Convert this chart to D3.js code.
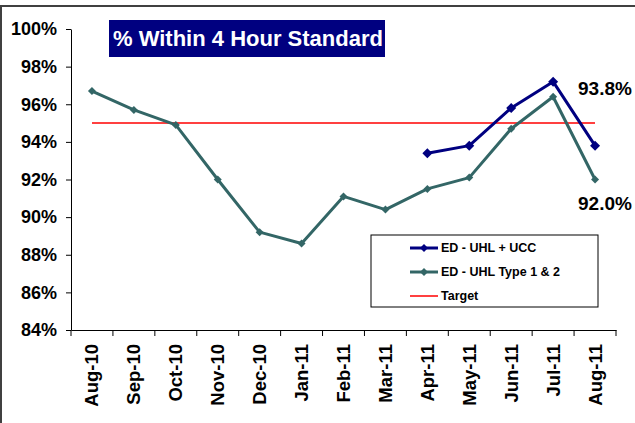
<!DOCTYPE html>
<html>
<head>
<meta charset="utf-8">
<script src="https://cdn.jsdelivr.net/npm/d3@7"></script>
<style>
  body { margin: 0; background: #fff; }
  svg { display: block; font-family: "Liberation Sans", Arial, sans-serif; }
</style>
</head>
<body>
<svg id="chart" width="635" height="423"></svg>
<script>
// data
var months = ["Aug-10", "Sep-10", "Oct-10", "Nov-10", "Dec-10", "Jan-11", "Feb-11",
              "Mar-11", "Apr-11", "May-11", "Jun-11", "Jul-11", "Aug-11"];
var uhlUcc = [null, null, null, null, null, null, null, null, 93.4, 93.8, 95.8, 97.2, 93.8];
var uhlType12 = [96.7, 95.7, 94.9, 92.0, 89.2, 88.6, 91.1, 90.4, 91.5, 92.1, 94.7, 96.4, 92.0];
var target = 95;
var yTicks = [84, 86, 88, 90, 92, 94, 96, 98, 100];

var svg = d3.select("#chart"),
    margin = {top: 29, right: 19, bottom: 93, left: 71},
    width = +svg.attr("width") - margin.left - margin.right,
    height = +svg.attr("height") - margin.top - margin.bottom,
    g = svg.append("g").attr("transform", "translate(" + margin.left + "," + margin.top + ")");

// outer frame (only top and left edges show in the crop)
svg.append("path")
    .attr("d", "M1,423V6H635")
    .attr("fill", "none")
    .attr("stroke", "#404040")
    .attr("stroke-width", 2);

var x = d3.scaleBand().domain(months).range([0, width]);
var y = d3.scaleLinear().domain([84, 100]).range([height, 0]);
var cx = function(i) { return x(months[i]) + x.bandwidth() / 2; };

// y axis
var yAxis = g.append("g")
    .call(d3.axisLeft(y).tickValues(yTicks).tickFormat(function(d) { return d + "%"; }).tickSize(5).tickSizeOuter(0));
yAxis.select(".domain").attr("stroke", "#000");
yAxis.selectAll(".tick line").attr("stroke", "#000");
yAxis.selectAll("text")
    .attr("x", -14)
    .attr("font-size", "18px")
    .attr("font-weight", "bold")
    .attr("fill", "#000");

// x axis: ticks sit on the band edges
var xAxis = g.append("g")
    .attr("transform", "translate(0," + height + ")")
    .call(d3.axisBottom(x).tickSize(0).tickSizeOuter(0));
xAxis.select(".domain").attr("stroke", "#000");
xAxis.selectAll("text")
    .attr("transform", "rotate(-90)")
    .attr("text-anchor", "end")
    .attr("x", -14)
    .attr("y", 0)
    .attr("dy", "0.35em")
    .attr("font-size", "18.5px")
    .attr("font-weight", "bold")
    .attr("fill", "#000");
g.append("g")
    .selectAll("line")
    .data(months.concat(["end"]))
    .enter().append("line")
      .attr("x1", function(d, i) { return i * x.step(); })
      .attr("x2", function(d, i) { return i * x.step(); })
      .attr("y1", height)
      .attr("y2", height + 6)
      .attr("stroke", "#000");

// target line
g.append("line")
    .attr("x1", cx(0))
    .attr("x2", cx(months.length - 1))
    .attr("y1", y(target))
    .attr("y2", y(target))
    .attr("stroke", "#ff0000")
    .attr("stroke-width", 1.5);

var line = d3.line()
    .defined(function(d) { return d != null; })
    .x(function(d, i) { return cx(i); })
    .y(function(d) { return y(d); });

var diamond = function(r) { return "M0," + (-r) + "L" + r + ",0L0," + r + "L" + (-r) + ",0Z"; };

function drawSeries(data, color, strokeW, r) {
  g.append("path")
      .datum(data)
      .attr("fill", "none")
      .attr("stroke", color)
      .attr("stroke-width", strokeW)
      .attr("stroke-linejoin", "round")
      .attr("d", line);
  g.append("g")
    .selectAll("path")
    .data(data.map(function(v, i) { return {v: v, i: i}; }).filter(function(d) { return d.v != null; }))
    .enter().append("path")
      .attr("transform", function(d) { return "translate(" + cx(d.i) + "," + y(d.v) + ")"; })
      .attr("d", diamond(r))
      .attr("fill", color);
}

drawSeries(uhlType12, "#336666", 3, 4);
drawSeries(uhlUcc, "#000080", 3, 5);

// end value labels
g.append("text")
    .attr("x", cx(12) - 17)
    .attr("y", y(uhlUcc[12]) - 51)
    .attr("font-size", "19px")
    .attr("font-weight", "bold")
    .text(uhlUcc[12].toFixed(1) + "%");
g.append("text")
    .attr("x", cx(12) - 17)
    .attr("y", y(uhlType12[12]) + 30)
    .attr("font-size", "19px")
    .attr("font-weight", "bold")
    .text(uhlType12[12].toFixed(1) + "%");

// title box
var title = svg.append("g").attr("transform", "translate(109,20)");
title.append("rect")
    .attr("width", 276)
    .attr("height", 37)
    .attr("fill", "#000080");
title.append("text")
    .attr("x", 4)
    .attr("y", 26)
    .attr("font-size", "22px")
    .attr("font-weight", "bold")
    .attr("fill", "#fff")
    .text("% Within 4 Hour Standard");

// legend
var legendItems = [
  {name: "ED - UHL + UCC", color: "#000080", w: 3, marker: true},
  {name: "ED - UHL Type 1 & 2", color: "#336666", w: 3, marker: true},
  {name: "Target", color: "#ff0000", w: 1.5, marker: false}
];
var legend = svg.append("g").attr("transform", "translate(371,235)");
legend.append("rect")
    .attr("width", 227)
    .attr("height", 72)
    .attr("fill", "#fff")
    .attr("stroke", "#000")
    .attr("stroke-width", 1);
var li = legend.selectAll("g.item")
    .data(legendItems)
    .enter().append("g")
      .attr("class", "item")
      .attr("transform", function(d, i) { return "translate(0," + (13 + i * 24) + ")"; });
li.append("line")
    .attr("x1", 39)
    .attr("x2", 67)
    .attr("stroke", function(d) { return d.color; })
    .attr("stroke-width", function(d) { return d.w; });
li.filter(function(d) { return d.marker; }).append("path")
    .attr("transform", "translate(53,0)")
    .attr("d", diamond(4))
    .attr("fill", function(d) { return d.color; });
li.append("text")
    .attr("x", 70)
    .attr("dy", "0.35em")
    .attr("font-size", "12.5px")
    .attr("font-weight", "bold")
    .text(function(d) { return d.name; });
</script>
</body>
</html>
